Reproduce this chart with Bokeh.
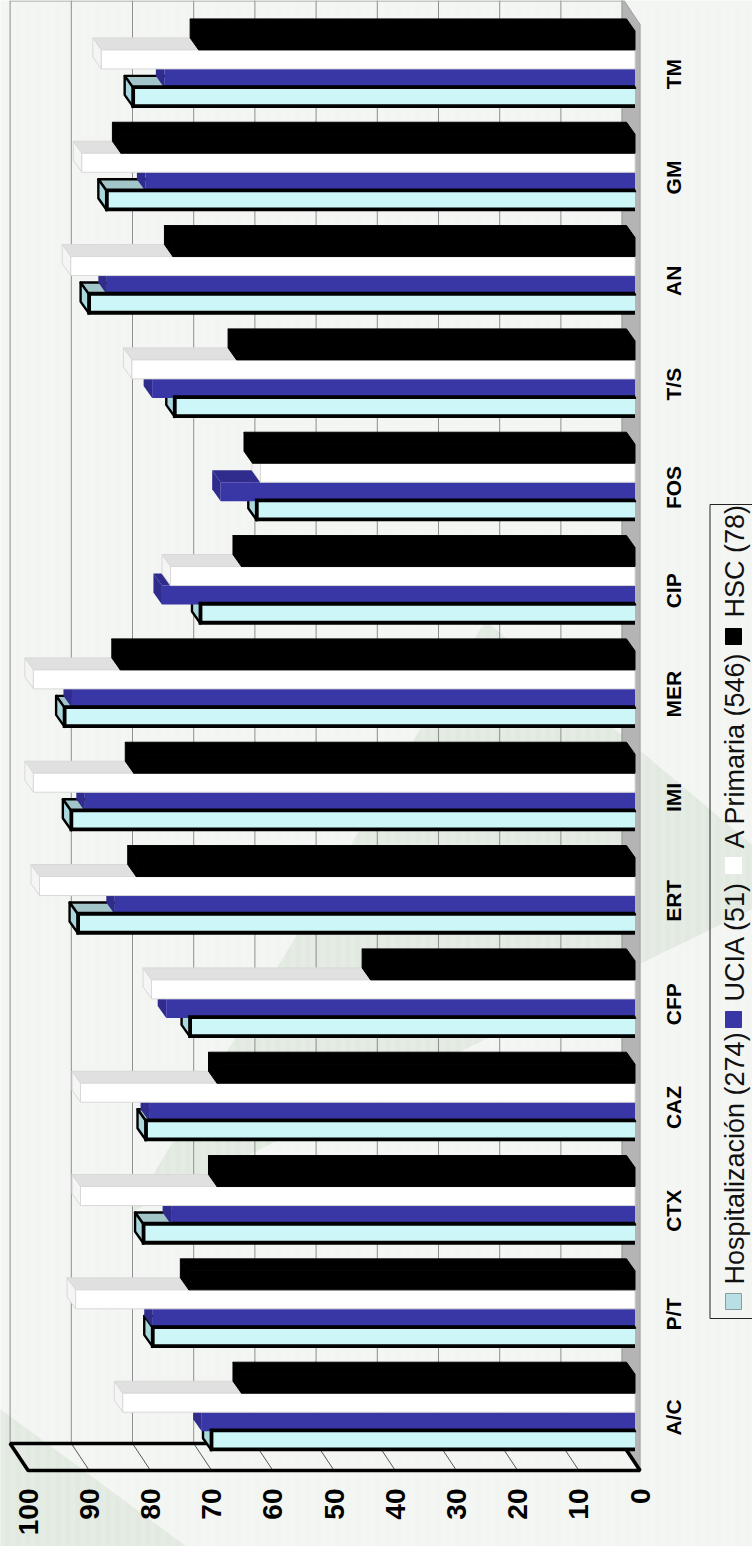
import math
from bokeh.core.properties import value
from bokeh.embed import file_html
from bokeh.models import Range1d
from bokeh.plotting import figure
from bokeh.resources import INLINE

# Antibiotic susceptibility (%) per agent and care setting
categories = ["A/C", "P/T", "CTX", "CAZ", "CFP", "ERT", "IMI", "MER", "CIP", "FOS", "T/S", "AN", "GM", "TM"]
hospitalizacion = [69.2, 78.8, 80.3, 79.9, 72.7, 91.0, 92.1, 93.2, 71.0, 61.8, 75.2, 89.2, 86.3, 82.0]
ucia = [70.8, 78.8, 75.8, 79.4, 76.6, 85.0, 89.9, 92.0, 77.3, 67.7, 78.9, 86.3, 80.0, 76.9]
a_primaria = [83.7, 91.4, 90.6, 90.6, 79.0, 97.3, 98.3, 98.3, 75.9, 61.2, 82.2, 92.2, 90.4, 87.2]
hsc = [64.3, 72.9, 68.3, 68.3, 43.2, 81.5, 81.9, 84.1, 64.3, 62.5, 65.1, 75.5, 84.0, 71.3]
value_ticks = [0, 10, 20, 30, 40, 50, 60, 70, 80, 90, 100]
legend_entries = ["Hospitalización (274)", "UCIA (51)", "A Primaria (546)", "HSC (78)"]

PAGE_W, PAGE_H = 752, 1546
X_ZERO, PX_PER_VALUE = 639.6, 6.12      # front floor edge: value 0 and scale
Y_ZERO, PX_PER_CAT = 1417.0, 103.33     # first category and category spacing


def vx(px):
    return (X_ZERO - px) / PX_PER_VALUE


def cy(py):
    return (Y_ZERO - py) / PX_PER_CAT


# Projection of the 3D box, expressed in axis units
WALL_DV, WALL_DC = 18 / PX_PER_VALUE, 27 / PX_PER_CAT
BAR_DV, BAR_DC = 8.5 / PX_PER_VALUE, 12 / PX_PER_CAT
ROOT = 5.1 / PX_PER_VALUE
SLOT = 19 / PX_PER_CAT
GROUP_OFFSET = 5.3 / PX_PER_CAT
FRONT_LIFT = 0.8 / PX_PER_CAT
FLOOR_FRONT = cy(1470)
FLOOR_BACK = FLOOR_FRONT + WALL_DC
WALL_TOP = cy(24)

BG = "#f3f5f2"
p = figure(
    width=PAGE_W, height=PAGE_H, output_backend="svg", toolbar_location=None,
    x_range=Range1d(vx(0), vx(PAGE_W)), y_range=Range1d(cy(PAGE_H), cy(0)),
    x_axis_location=None, y_axis_location=None,
    min_border=0, background_fill_color=BG, border_fill_color=BG,
)
p.outline_line_color = None
p.grid.visible = False

# Pale watermark shapes and the faint vertical banding behind everything
for pts in ([(485, 620), (800, 885), (130, 1212)], [(-5, 1405), (-5, 1560), (205, 1560)]):
    p.patch([vx(a) for a, _ in pts], [cy(b) for _, b in pts], fill_color="#e1e9e0", line_color=None)
band_left = [vx(px) for px in range(0, PAGE_W, 10)]
band_right = [vx(px + 5) for px in range(0, PAGE_W, 10)]
p.quad(left=band_left, right=band_right, bottom=cy(PAGE_H), top=cy(0),
       fill_color="#ffffff", fill_alpha=0.14, line_color=None)

# Back wall gridlines, side wall and floor
p.segment([v + WALL_DV for v in value_ticks], FLOOR_BACK, [v + WALL_DV for v in value_ticks], cy(0),
          line_color="#8e8e8e", line_width=1)
p.line([100 + WALL_DV, WALL_DV], cy(0.5), line_color="#9a9a9a", line_width=1)
p.patch([WALL_DV, 0, 0, WALL_DV], [FLOOR_BACK, FLOOR_FRONT, WALL_TOP, WALL_TOP + WALL_DC],
        fill_color="#b4b4b4", line_color="#a0a0a0", line_width=1)
p.segment([v + WALL_DV for v in value_ticks], FLOOR_BACK, value_ticks, FLOOR_FRONT,
          line_color="#555555", line_width=1)
p.patch([100 + WALL_DV, 100, 0, WALL_DV], [FLOOR_BACK, FLOOR_FRONT, FLOOR_FRONT, FLOOR_BACK],
        fill_color=None, line_color="#000000", line_width=3.6)


def faces(values, k):
    """Front, top and end faces of the bars of series slot k."""
    front_x, front_y, top_x, top_y, end_x, end_y = [], [], [], [], [], []
    for i, val in enumerate(values):
        b = i + GROUP_OFFSET + (k - 2) * SLOT
        t = b + SLOT
        v = val + ROOT
        front_x.append([ROOT, v, v, ROOT])
        front_y.append([b, b, t, t])
        top_x.append([ROOT, v, v + BAR_DV, ROOT + BAR_DV])
        top_y.append([t, t, t + BAR_DC, t + BAR_DC])
        end_x.append([v, v, v + BAR_DV, v + BAR_DV])
        end_y.append([b, t, t + BAR_DC, b + BAR_DC])
    return front_x, front_y, top_x, top_y, end_x, end_y


# Series are painted in cluster order, each one covering the previous
hf_x, hf_y, ht_x, ht_y, he_x, he_y = faces(hospitalizacion, 0)
p.patches(ht_x, ht_y, fill_color="#a2c5c9", line_color="#000000", line_width=2.4, line_join="round")
p.patches(he_x, he_y, fill_color="#a9d9dd", line_color="#000000", line_width=2.4, line_join="round")

for values, k, front, top, end, edge, lw in (
    (ucia, 1, "#3936a6", "#2f2c8e", "#2f2c8e", None, 0),
    (a_primaria, 2, "#ffffff", "#e0e0e0", "#f5f5f5", "#d8d8d8", 1),
    (hsc, 3, "#000000", "#000000", "#000000", "#000000", 1),
):
    fx, fy, tx, ty, ex, ey = faces(values, k)
    p.patches(tx, ty, fill_color=top, line_color=edge, line_width=lw)
    p.patches(ex, ey, fill_color=end, line_color=edge, line_width=lw)
    p.patches(fx, fy, fill_color=front, line_color=edge, line_width=lw)

# Front faces of the outlined series sit on top of the neighbouring bar
hf_y = [[y + FRONT_LIFT for y in ys] for ys in hf_y]
p.patches(hf_x, hf_y, fill_color="#ccf6f7", line_color=None)
p.multi_line(hf_x, hf_y, line_color="#000000", line_width=3.8, line_join="miter")

# Rotated tick labels for the value and category scales
p.text(x=value_ticks, y=cy(1488), text=[str(v) for v in value_ticks],
       angle=math.pi / 2, text_align="right", text_baseline="middle",
       text_font=value("Liberation Sans"), text_font_style="bold", text_font_size="28px", text_color="#000000")
p.text(x=vx(673), y=list(range(len(categories))), text=categories,
       angle=math.pi / 2, text_align="center", text_baseline="middle",
       text_font=value("Liberation Sans"), text_font_style="bold", text_font_size="21px", text_color="#000000")

# Legend box, swatches and rotated entries along the right edge
p.patch([vx(709.5), vx(709.5), vx(770), vx(770)], [cy(504), cy(1318), cy(1318), cy(504)],
        fill_color=None, line_color="#222222", line_width=1)
legend_fill = ["#b8e0e4", "#3936a6", "#ffffff", "#000000"]
legend_line = ["#8f9a9c", "#3936a6", "#ffffff", "#000000"]
legend_swatch = [1293, 1011, 857, 628]
legend_text = [1284, 1001, 848, 617]
p.quad(left=vx(725), right=vx(741), bottom=[cy(s + 16) for s in legend_swatch], top=[cy(s) for s in legend_swatch],
       fill_color=legend_fill, line_color=legend_line, line_width=1)
p.text(x=vx(734), y=[cy(t) for t in legend_text], text=legend_entries,
       angle=math.pi / 2, text_align="left", text_baseline="middle",
       text_font=value("Liberation Sans"), text_font_size="27px", text_color="#111111")

open("out.html", "w").write(file_html(p, INLINE))
